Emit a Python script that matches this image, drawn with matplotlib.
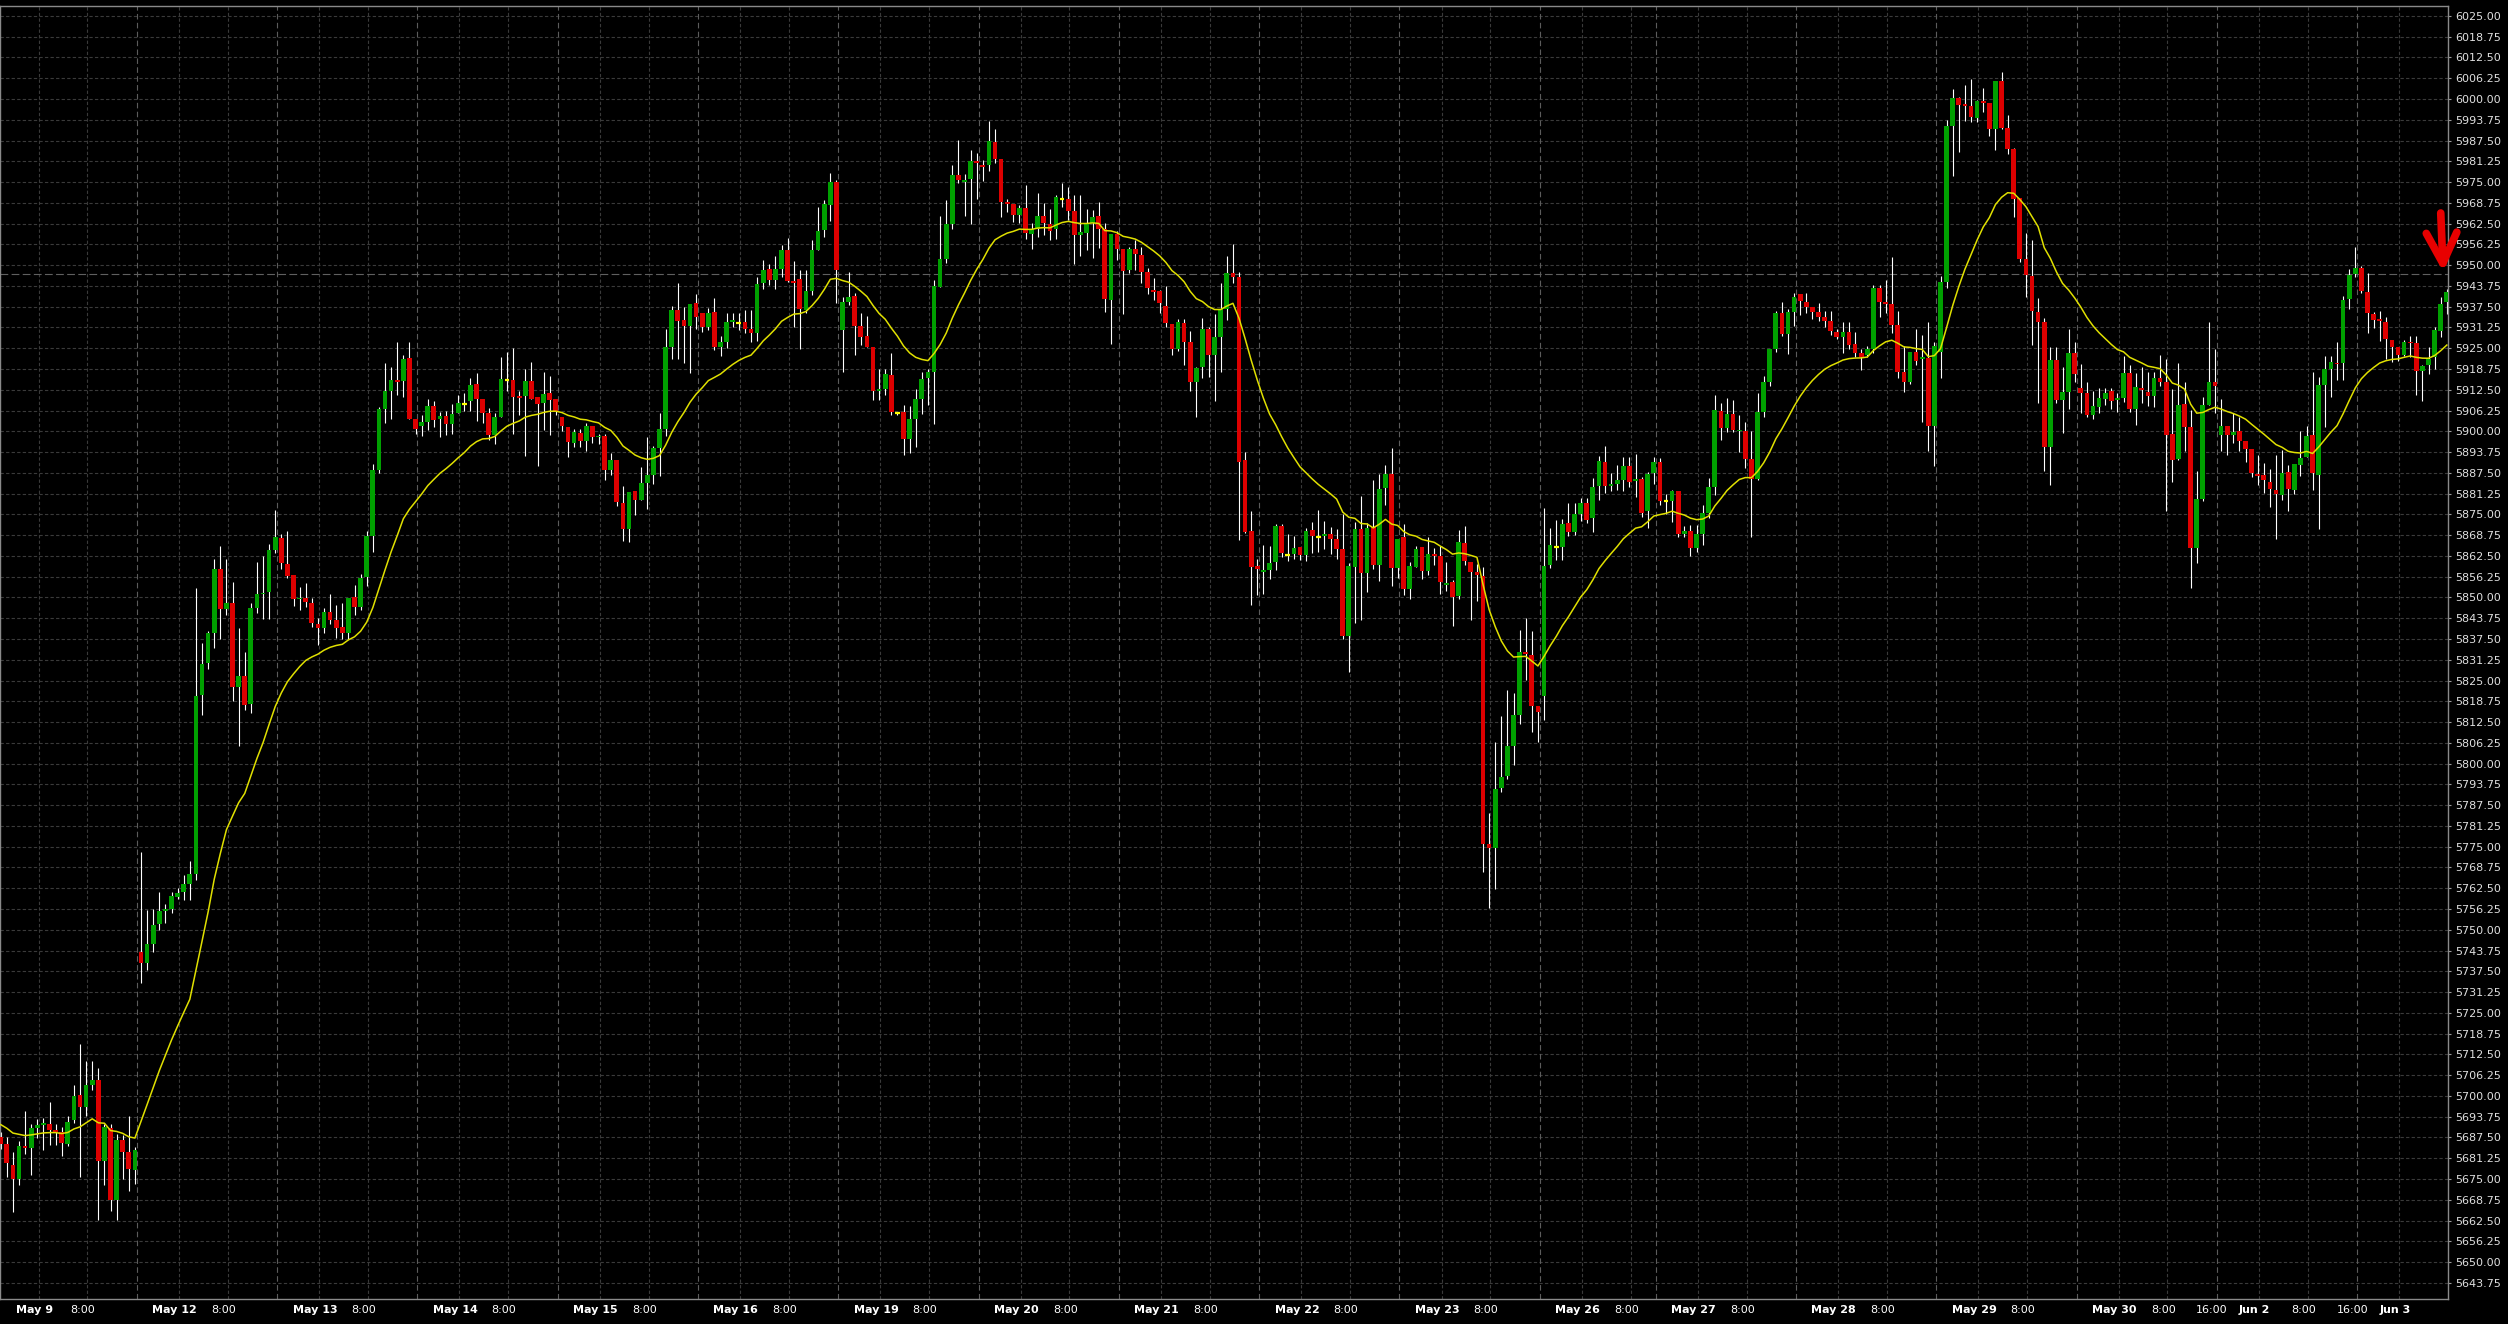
import numpy as np
import matplotlib
matplotlib.use("Agg")
import matplotlib.pyplot as plt
from matplotlib.ticker import FormatStrFormatter

# hourly candles, (open, high, low, close), one list per trading day
may09 = [(5687.5, 5689.0, 5684.0, 5685.5), (5685.5, 5687.5, 5675.6, 5679.7), (5679.2, 5683.0, 5665.0, 5675.1),
         (5675.1, 5686.5, 5673.3, 5685.0), (5685.0, 5695.6, 5682.5, 5684.3), (5684.3, 5691.6, 5676.2, 5690.3),
         (5690.5, 5693.1, 5687.3, 5691.3), (5691.3, 5693.4, 5683.7, 5691.8), (5691.6, 5698.2, 5685.3, 5689.8),
         (5689.8, 5691.6, 5685.3, 5689.1), (5689.1, 5690.8, 5682.0, 5685.8), (5685.5, 5693.9, 5684.8, 5692.3),
         (5692.9, 5703.3, 5691.8, 5700.0), (5700.2, 5715.7, 5675.6, 5696.7), (5696.7, 5710.6, 5694.1, 5703.2),
         (5703.2, 5710.6, 5701.7, 5704.8), (5704.8, 5708.3, 5662.7, 5680.5), (5680.5, 5691.6, 5673.3, 5690.6),
         (5690.3, 5691.6, 5665.3, 5668.6), (5668.8, 5688.4, 5662.7, 5686.8), (5686.8, 5688.3, 5675.1, 5683.2),
         (5683.2, 5694.1, 5671.3, 5677.9), (5677.7, 5684.6, 5673.6, 5683.7)]
may12 = [(5743.3, 5773.4, 5733.9, 5740.0), (5740.0, 5756.0, 5737.8, 5745.8), (5745.8, 5756.4, 5743.3, 5751.4),
         (5751.6, 5761.3, 5749.9, 5755.7), (5755.7, 5757.7, 5752.1, 5756.4), (5756.4, 5761.3, 5754.9, 5760.2),
         (5760.0, 5762.5, 5759.2, 5761.0), (5761.3, 5766.6, 5759.0, 5763.8), (5763.8, 5770.6, 5759.0, 5766.8),
         (5766.8, 5852.7, 5765.1, 5820.3), (5820.7, 5836.2, 5814.7, 5830.0), (5830.4, 5839.8, 5828.6, 5839.2),
         (5839.2, 5861.5, 5834.8, 5858.5), (5858.5, 5865.5, 5837.6, 5846.6), (5846.6, 5861.5, 5844.7, 5848.2),
         (5848.2, 5854.7, 5818.7, 5823.2), (5823.2, 5840.9, 5805.3, 5826.4), (5826.4, 5833.6, 5816.0, 5817.6),
         (5817.8, 5848.3, 5815.3, 5846.8), (5846.8, 5860.7, 5845.4, 5851.1), (5851.1, 5862.5, 5843.6, 5851.3),
         (5851.6, 5866.1, 5843.6, 5864.3), (5864.3, 5876.3, 5863.5, 5868.1)]
may13 = [(5868.0, 5869.1, 5858.5, 5860.3), (5860.1, 5869.9, 5855.9, 5856.5), (5856.7, 5856.7, 5847.4, 5849.5),
         (5849.5, 5853.1, 5846.2, 5849.9), (5849.9, 5854.3, 5847.0, 5848.7), (5848.2, 5849.9, 5841.0, 5842.2),
         (5842.0, 5843.7, 5835.6, 5840.8), (5840.8, 5846.8, 5839.2, 5845.6), (5845.6, 5851.0, 5842.0, 5843.2),
         (5843.2, 5847.8, 5837.8, 5840.8), (5841.2, 5848.2, 5837.4, 5839.2), (5839.4, 5849.9, 5837.6, 5849.9),
         (5850.1, 5853.9, 5844.8, 5847.0), (5847.0, 5857.1, 5846.2, 5855.9), (5856.3, 5870.0, 5853.5, 5868.5),
         (5868.6, 5890.2, 5863.8, 5888.4), (5888.4, 5907.4, 5887.6, 5906.7), (5906.7, 5920.5, 5902.6, 5912.1),
         (5912.1, 5919.3, 5903.8, 5915.5), (5915.5, 5927.0, 5910.9, 5914.9), (5915.2, 5923.0, 5910.2, 5921.8),
         (5922.1, 5927.0, 5903.6, 5903.6), (5903.6, 5903.6, 5899.2, 5900.7)]
may14 = [(5901.7, 5904.9, 5898.7, 5902.9), (5902.9, 5909.8, 5900.4, 5907.6), (5907.6, 5909.2, 5901.4, 5903.4),
         (5903.6, 5905.9, 5898.4, 5904.7), (5904.7, 5906.2, 5899.0, 5902.2), (5902.2, 5908.2, 5899.2, 5905.2),
         (5905.6, 5910.9, 5905.6, 5908.4), (5908.3, 5911.6, 5906.2, 5908.3), (5909.0, 5916.0, 5906.0, 5913.9),
         (5914.1, 5917.5, 5903.2, 5909.8), (5909.6, 5909.6, 5902.4, 5905.6), (5905.4, 5906.9, 5897.4, 5898.9),
         (5898.9, 5905.4, 5896.1, 5904.3), (5904.4, 5922.3, 5904.4, 5915.8), (5915.3, 5923.9, 5912.0, 5915.3),
         (5915.5, 5925.1, 5899.2, 5910.4), (5910.6, 5912.0, 5905.0, 5910.0), (5910.6, 5918.7, 5892.6, 5915.2),
         (5915.2, 5920.9, 5909.7, 5909.7), (5910.2, 5910.2, 5889.6, 5908.2), (5908.6, 5917.7, 5900.4, 5911.2),
         (5911.4, 5916.5, 5898.9, 5909.4), (5909.7, 5909.7, 5905.0, 5906.2)]
may15 = [(5904.4, 5904.4, 5900.2, 5901.7), (5901.4, 5901.4, 5892.2, 5896.8), (5896.6, 5900.6, 5895.4, 5899.8),
         (5899.5, 5900.6, 5895.4, 5897.2), (5897.2, 5902.4, 5894.2, 5901.6), (5901.6, 5901.6, 5896.6, 5898.2),
         (5898.2, 5899.2, 5896.2, 5898.7), (5898.6, 5899.2, 5885.2, 5888.4), (5888.4, 5893.6, 5886.9, 5891.4),
         (5891.4, 5891.4, 5877.6, 5878.8), (5878.4, 5883.4, 5867.1, 5870.6), (5870.6, 5881.8, 5866.8, 5881.8),
         (5882.1, 5882.1, 5874.8, 5879.3), (5879.3, 5889.4, 5879.3, 5884.4), (5884.4, 5898.4, 5876.5, 5886.9),
         (5886.9, 5895.6, 5884.2, 5895.0), (5895.1, 5905.6, 5886.6, 5900.6), (5900.8, 5930.7, 5898.6, 5925.3),
         (5925.5, 5937.7, 5921.9, 5936.5), (5936.5, 5944.5, 5921.9, 5933.3), (5933.5, 5937.5, 5920.7, 5931.8),
         (5931.8, 5938.3, 5917.5, 5938.3), (5938.5, 5941.3, 5930.9, 5934.3)]
may16 = [(5935.5, 5935.5, 5930.0, 5931.5), (5931.5, 5937.0, 5930.5, 5935.5), (5935.9, 5940.0, 5924.5, 5925.5),
         (5925.5, 5928.7, 5922.7, 5926.9), (5926.9, 5935.5, 5925.1, 5932.9), (5932.9, 5935.5, 5931.5, 5933.4),
         (5932.7, 5935.5, 5930.5, 5932.7), (5932.9, 5936.5, 5929.7, 5930.9), (5930.7, 5936.5, 5926.9, 5929.5),
         (5929.5, 5946.5, 5927.1, 5944.3), (5944.5, 5951.7, 5942.7, 5948.6), (5948.8, 5950.4, 5943.9, 5945.5),
         (5945.5, 5952.9, 5942.9, 5948.8), (5948.8, 5956.2, 5946.5, 5954.6), (5954.6, 5958.2, 5945.0, 5945.3),
         (5945.2, 5951.2, 5931.5, 5944.7), (5945.7, 5948.6, 5924.7, 5936.9), (5936.5, 5948.6, 5935.5, 5942.1),
         (5942.1, 5957.6, 5940.9, 5954.6), (5954.6, 5967.4, 5954.6, 5960.3), (5960.5, 5969.5, 5958.6, 5968.4),
         (5968.1, 5977.8, 5963.4, 5975.1), (5975.1, 5975.6, 5938.5, 5948.6)]
may19 = [(5930.5, 5940.3, 5917.7, 5939.0), (5938.9, 5947.9, 5938.0, 5940.3), (5940.7, 5941.5, 5923.0, 5931.7),
         (5931.7, 5935.5, 5926.0, 5928.3), (5928.7, 5934.7, 5925.3, 5925.3), (5925.3, 5925.3, 5909.4, 5912.2),
         (5912.2, 5918.7, 5909.4, 5912.6), (5912.8, 5918.7, 5911.0, 5917.3), (5916.9, 5923.5, 5904.8, 5905.8),
         (5905.6, 5905.6, 5904.8, 5905.6), (5905.8, 5907.8, 5892.8, 5897.8), (5897.8, 5907.6, 5893.4, 5903.6),
         (5903.6, 5912.6, 5895.4, 5909.6), (5909.6, 5917.7, 5905.2, 5915.6), (5916.0, 5918.7, 5908.0, 5917.9),
         (5917.9, 5945.5, 5902.2, 5943.7), (5943.5, 5964.8, 5943.5, 5951.8), (5951.8, 5969.6, 5950.6, 5962.4),
         (5962.4, 5980.1, 5960.8, 5977.0), (5977.0, 5987.7, 5974.8, 5975.6), (5975.1, 5977.4, 5964.8, 5975.6),
         (5975.9, 5984.7, 5962.4, 5981.3), (5981.3, 5983.7, 5969.8, 5980.7)]
may20 = [(5980.0, 5981.7, 5975.2, 5979.6), (5980.0, 5993.3, 5978.2, 5987.3), (5987.1, 5990.9, 5980.7, 5981.9),
         (5981.9, 5981.9, 5964.6, 5969.1), (5969.1, 5970.0, 5966.0, 5968.4), (5968.4, 5968.4, 5963.0, 5965.1),
         (5965.1, 5968.1, 5962.6, 5967.3), (5967.3, 5974.0, 5958.0, 5959.8), (5959.4, 5962.6, 5955.0, 5961.0),
         (5961.0, 5971.6, 5958.6, 5964.8), (5964.8, 5968.6, 5959.1, 5962.6), (5962.4, 5966.8, 5957.6, 5960.4),
         (5961.0, 5971.2, 5958.0, 5970.4), (5970.0, 5974.8, 5967.6, 5970.0), (5969.8, 5973.6, 5963.6, 5966.4),
         (5966.2, 5971.0, 5950.4, 5959.2), (5959.0, 5971.2, 5952.8, 5960.0), (5959.8, 5966.8, 5954.6, 5962.6),
         (5962.8, 5966.6, 5952.2, 5964.4), (5964.8, 5969.0, 5955.2, 5961.0), (5961.0, 5962.6, 5935.9, 5939.9),
         (5939.5, 5959.4, 5926.3, 5959.4), (5959.4, 5960.4, 5951.6, 5954.8)]
may21 = [(5954.8, 5954.8, 5935.3, 5948.2), (5948.4, 5955.4, 5947.6, 5954.8), (5954.8, 5957.6, 5948.6, 5953.4),
         (5953.0, 5955.4, 5944.6, 5947.8), (5948.0, 5949.0, 5941.4, 5943.0), (5942.5, 5946.2, 5939.5, 5942.0),
         (5942.3, 5942.5, 5935.7, 5938.5), (5937.7, 5943.7, 5931.3, 5932.5), (5932.3, 5932.3, 5923.0, 5924.9),
         (5924.9, 5933.9, 5924.3, 5932.9), (5932.5, 5933.9, 5920.1, 5927.0), (5926.9, 5930.3, 5912.0, 5914.7),
         (5914.7, 5919.5, 5904.4, 5919.1), (5919.3, 5934.1, 5916.0, 5930.7), (5930.7, 5931.5, 5916.3, 5923.1),
         (5923.1, 5935.3, 5909.1, 5928.3), (5928.5, 5944.7, 5917.9, 5936.7), (5936.7, 5952.8, 5933.5, 5947.6),
         (5947.6, 5956.4, 5944.6, 5946.4), (5946.4, 5947.8, 5867.3, 5890.9), (5891.4, 5893.8, 5869.5, 5869.8),
         (5870.0, 5876.1, 5847.7, 5859.3), (5859.5, 5861.7, 5850.7, 5858.7)]
may22 = [(5857.7, 5865.7, 5850.9, 5858.3), (5858.3, 5865.5, 5855.7, 5860.3), (5860.8, 5872.1, 5858.3, 5871.5),
         (5871.5, 5872.1, 5862.1, 5863.3), (5862.9, 5869.1, 5860.9, 5862.9), (5863.1, 5868.5, 5861.5, 5864.9),
         (5865.1, 5865.1, 5861.3, 5862.9), (5862.9, 5870.9, 5860.9, 5870.1), (5870.3, 5872.7, 5863.5, 5868.5),
         (5868.3, 5876.3, 5863.7, 5868.3), (5868.5, 5873.1, 5864.5, 5869.1), (5869.1, 5871.3, 5863.1, 5867.7),
         (5867.6, 5870.5, 5861.5, 5864.7), (5864.7, 5875.1, 5837.6, 5838.4), (5838.4, 5860.5, 5827.7, 5859.5),
         (5859.3, 5872.7, 5842.4, 5870.6), (5870.6, 5880.6, 5843.2, 5857.5), (5857.5, 5872.3, 5851.5, 5870.9),
         (5871.3, 5885.2, 5858.7, 5859.7), (5859.9, 5887.2, 5854.9, 5882.6), (5882.9, 5889.8, 5877.9, 5887.2),
         (5887.2, 5894.9, 5853.6, 5858.8), (5858.8, 5867.6, 5856.0, 5867.6)]
may23 = [(5868.2, 5872.0, 5850.8, 5852.6), (5852.6, 5860.8, 5849.6, 5859.5), (5859.2, 5865.6, 5859.2, 5864.6),
         (5865.2, 5865.2, 5855.6, 5858.0), (5858.0, 5868.2, 5856.8, 5863.0), (5863.0, 5864.8, 5859.8, 5862.4),
         (5862.4, 5865.6, 5851.0, 5854.6), (5853.8, 5860.8, 5851.8, 5854.3), (5854.6, 5855.2, 5841.3, 5850.2),
         (5850.4, 5870.4, 5849.6, 5866.8), (5866.4, 5871.4, 5859.8, 5861.0), (5860.8, 5860.8, 5843.3, 5857.8),
         (5857.8, 5860.0, 5848.8, 5856.8), (5856.5, 5859.2, 5767.5, 5775.9), (5775.8, 5785.2, 5756.5, 5774.7),
         (5774.7, 5806.6, 5762.3, 5792.4), (5792.6, 5814.2, 5791.6, 5796.0), (5796.3, 5822.3, 5795.4, 5805.4),
         (5805.4, 5821.3, 5799.6, 5814.6), (5814.6, 5840.1, 5812.0, 5833.5), (5833.5, 5843.9, 5825.1, 5833.0),
         (5832.7, 5839.9, 5809.6, 5817.4), (5817.4, 5817.4, 5806.6, 5815.4)]
may26 = [(5820.2, 5876.8, 5813.0, 5859.5), (5859.7, 5871.0, 5859.0, 5865.8), (5865.2, 5873.4, 5861.4, 5865.2),
         (5865.2, 5873.6, 5861.4, 5872.0), (5872.4, 5878.3, 5868.4, 5869.6), (5869.6, 5878.3, 5868.8, 5875.2),
         (5875.2, 5879.9, 5873.0, 5878.4), (5878.4, 5879.9, 5872.4, 5873.4), (5873.8, 5886.1, 5869.8, 5883.3),
         (5883.6, 5892.7, 5879.4, 5891.1), (5890.7, 5895.7, 5881.4, 5883.6), (5883.6, 5887.5, 5881.9, 5884.0),
         (5884.0, 5889.9, 5882.3, 5885.4), (5885.4, 5892.3, 5881.9, 5889.7), (5889.7, 5892.3, 5883.3, 5884.7),
         (5884.9, 5893.1, 5880.2, 5885.6), (5885.6, 5886.3, 5874.2, 5875.4), (5876.0, 5887.9, 5871.0, 5887.2),
         (5887.5, 5892.3, 5884.1, 5890.8)]
may27 = [(5890.8, 5891.9, 5877.8, 5879.0), (5878.9, 5881.2, 5875.2, 5878.9), (5879.0, 5882.3, 5872.8, 5882.1),
         (5882.1, 5882.1, 5868.2, 5869.2), (5869.0, 5871.6, 5868.2, 5870.0), (5870.0, 5871.8, 5862.6, 5865.0),
         (5864.8, 5871.8, 5863.6, 5869.0), (5869.0, 5877.8, 5865.8, 5875.4), (5875.4, 5886.1, 5874.0, 5883.1),
         (5883.1, 5911.0, 5880.9, 5906.4), (5906.1, 5908.5, 5897.3, 5901.1), (5901.1, 5910.0, 5899.9, 5905.1),
         (5905.1, 5909.5, 5899.7, 5900.3), (5900.0, 5905.0, 5893.9, 5900.5), (5900.2, 5902.9, 5888.9, 5891.6),
         (5891.6, 5900.2, 5868.1, 5885.6), (5885.8, 5911.5, 5885.2, 5905.9), (5905.9, 5916.7, 5904.4, 5914.9),
         (5914.9, 5924.9, 5913.7, 5924.9), (5924.9, 5936.3, 5923.9, 5935.5), (5935.5, 5938.9, 5928.7, 5929.3),
         (5929.3, 5936.7, 5923.3, 5935.9), (5935.9, 5941.5, 5931.7, 5940.3)]
may28 = [(5941.3, 5941.3, 5934.9, 5939.3), (5938.9, 5941.5, 5935.5, 5937.5), (5937.5, 5937.5, 5933.9, 5935.9),
         (5935.9, 5938.5, 5933.3, 5934.3), (5934.3, 5936.3, 5931.5, 5933.3), (5933.1, 5936.3, 5929.1, 5930.1),
         (5929.9, 5930.9, 5927.9, 5928.3), (5928.5, 5932.9, 5923.5, 5929.9), (5929.9, 5932.9, 5924.9, 5925.9),
         (5926.3, 5929.9, 5922.3, 5923.7), (5923.7, 5924.9, 5918.5, 5922.5), (5922.9, 5925.7, 5922.5, 5924.9),
         (5924.9, 5943.9, 5923.5, 5943.1), (5943.1, 5943.9, 5934.5, 5938.9), (5938.9, 5945.5, 5935.5, 5938.3),
         (5938.3, 5952.4, 5929.5, 5932.1), (5932.1, 5936.3, 5915.9, 5917.9), (5917.7, 5925.7, 5911.9, 5914.9),
         (5914.9, 5923.9, 5914.3, 5923.9), (5923.9, 5930.7, 5919.9, 5921.3), (5921.7, 5928.9, 5902.8, 5922.5),
         (5922.2, 5932.9, 5894.2, 5901.7), (5901.7, 5926.9, 5889.6, 5925.8)]
may29 = [(5924.0, 5946.7, 5916.1, 5945.0), (5945.0, 5993.7, 5943.0, 5991.9), (5991.9, 6002.9, 5976.9, 6000.4),
         (6000.4, 6000.7, 5984.1, 5998.2), (5998.6, 6004.3, 5993.3, 5998.0), (5997.9, 6006.1, 5993.1, 5994.7),
         (5994.4, 5999.7, 5993.1, 5999.4), (5999.3, 6003.3, 5996.1, 5998.7), (5998.7, 5998.7, 5988.9, 5991.1),
         (5991.1, 6005.5, 5984.7, 6005.5), (6005.5, 6008.1, 5990.9, 5991.3), (5991.3, 5995.1, 5983.5, 5984.9),
         (5984.9, 5985.3, 5964.4, 5970.0), (5970.2, 5970.2, 5951.0, 5951.9), (5951.8, 5959.6, 5940.3, 5947.0),
         (5946.8, 5957.6, 5926.1, 5936.1), (5935.9, 5940.1, 5908.4, 5932.9), (5932.9, 5934.1, 5888.2, 5895.4),
         (5895.2, 5925.5, 5883.8, 5921.5), (5921.5, 5925.5, 5908.4, 5909.3), (5909.3, 5919.5, 5899.4, 5911.7),
         (5911.9, 5930.9, 5906.8, 5923.5), (5923.5, 5926.9, 5914.9, 5917.1)]
may30 = [(5913.0, 5920.3, 5905.4, 5911.4), (5911.4, 5914.9, 5904.4, 5904.8), (5904.8, 5912.2, 5903.8, 5907.6),
         (5907.4, 5913.0, 5905.4, 5910.0), (5909.8, 5913.0, 5908.0, 5911.4), (5912.0, 5913.0, 5906.6, 5909.2),
         (5909.4, 5911.6, 5905.8, 5910.0), (5910.0, 5922.7, 5908.8, 5917.5), (5917.5, 5919.9, 5905.8, 5906.6),
         (5906.8, 5917.5, 5902.0, 5913.3), (5913.1, 5919.3, 5908.4, 5912.3), (5911.8, 5917.7, 5907.6, 5910.6),
         (5910.6, 5917.9, 5907.4, 5916.0), (5916.1, 5922.9, 5913.5, 5914.9), (5914.9, 5921.7, 5876.1, 5899.0),
         (5899.2, 5912.8, 5884.8, 5891.4), (5891.8, 5920.5, 5891.4, 5908.0), (5908.2, 5914.9, 5894.2, 5901.4),
         (5901.4, 5906.4, 5852.7, 5865.0), (5865.0, 5888.2, 5860.3, 5879.7), (5879.7, 5910.4, 5879.1, 5907.8),
         (5907.8, 5932.9, 5907.8, 5914.9), (5914.9, 5924.7, 5905.4, 5913.7)]
jun02 = [(5898.8, 5909.6, 5894.0, 5901.6), (5901.6, 5901.6, 5893.0, 5898.8), (5898.8, 5905.6, 5896.4, 5899.8),
         (5900.0, 5904.4, 5894.0, 5897.2), (5897.0, 5897.0, 5890.8, 5894.8), (5894.6, 5894.6, 5886.2, 5887.4),
         (5887.2, 5892.8, 5883.8, 5886.6), (5886.8, 5890.6, 5881.4, 5885.2), (5884.8, 5888.6, 5877.3, 5882.6),
         (5882.4, 5892.8, 5867.5, 5881.0), (5880.8, 5894.4, 5879.3, 5887.4), (5887.8, 5890.0, 5876.1, 5882.6),
         (5882.4, 5890.2, 5881.0, 5890.2), (5890.0, 5900.0, 5886.6, 5892.0), (5892.4, 5901.6, 5892.4, 5898.6),
         (5899.0, 5917.9, 5882.2, 5887.4), (5887.0, 5916.3, 5870.5, 5913.9), (5913.9, 5922.7, 5901.4, 5918.7),
         (5918.7, 5922.7, 5910.2, 5920.9), (5920.7, 5926.9, 5915.3, 5920.3), (5920.5, 5940.7, 5915.5, 5939.5),
         (5939.7, 5948.8, 5936.9, 5947.1), (5947.4, 5955.6, 5946.4, 5949.1)]
jun03 = [(5949.1, 5949.8, 5941.5, 5942.1), (5941.9, 5947.6, 5929.7, 5935.5), (5935.3, 5935.9, 5931.1, 5933.5),
         (5933.7, 5936.1, 5927.3, 5933.3), (5932.9, 5934.3, 5921.7, 5927.7), (5927.5, 5927.5, 5920.9, 5925.5),
         (5925.3, 5925.3, 5921.1, 5923.1), (5922.9, 5927.5, 5922.7, 5926.9), (5926.9, 5928.7, 5922.5, 5926.5),
         (5926.5, 5928.7, 5910.8, 5918.3), (5918.3, 5919.9, 5909.0, 5919.7), (5919.9, 5925.3, 5917.1, 5921.7),
         (5922.5, 5931.3, 5918.9, 5930.5), (5930.3, 5940.5, 5928.3, 5938.3), (5938.8, 5942.9, 5935.3, 5942.0)]

day_labels = ["May 9", "May 12", "May 13", "May 14", "May 15", "May 16", "May 19", "May 20", "May 21",
              "May 22", "May 23", "May 26", "May 27", "May 28", "May 29", "May 30", "Jun 2", "Jun 3"]
day_candles = [may09, may12, may13, may14, may15, may16, may19, may20, may21,
               may22, may23, may26, may27, may28, may29, may30, jun02, jun03]
# days that also show an 8:00 / 16:00 label on the time axis
days_with_8 = day_labels[:-1]
days_with_16 = ["May 30", "Jun 2"]

ma_period = 20          # moving average of the closes (exponential)
ma_start = 5692.0       # moving average value at the left edge
last_price = 5947.4     # dashed price line
price_ticks = np.arange(5643.75, 6025.01, 6.25)

# ---------------------------------------------------------------
ohlc = np.array([c for day in day_candles for c in day])
opens, highs, lows, closes = ohlc.T
x = np.arange(len(ohlc))
day_start = np.cumsum([0] + [len(d) for d in day_candles])[:-1]

alpha = 2.0 / (ma_period + 1)
ma = np.empty(len(closes))
prev = ma_start
for i, c in enumerate(closes):
    prev = prev + alpha * (c - prev)
    ma[i] = prev

fig = plt.figure(figsize=(25.08, 13.24), dpi=100, facecolor="black")
ax = fig.add_axes([0.0, 0.0189, 0.9761, 0.9766])
ax.set_facecolor("black")
ax.set_xlim(-0.12, 401.2)
ax.set_ylim(5638.9, 6028.0)

# grid: dotted price lines, dotted time lines, dashed day separators
for p in price_ticks:
    ax.axhline(p, color="#3a3a3a", lw=0.8, ls=(0, (3, 2)), zorder=0)
for k in day_start:
    if k > 0:
        ax.axvline(k - 0.7, color="#5c5c5c", lw=0.8, ls=(0, (5, 3)), zorder=0)
    for off in (6.2, 14.2):
        if k + off < 400.5:
            ax.axvline(k + off, color="#3a3a3a", lw=0.8, ls=(0, (3, 2)), zorder=0)
ax.axhline(last_price, color="#606060", lw=0.8, ls=(0, (7, 3)), zorder=1)

# candles
up = closes > opens
down = closes < opens
flat = closes == opens
w = 0.77
ax.vlines(x, lows, highs, color="white", lw=0.8, zorder=2)
ax.bar(x[up], (closes - opens)[up], bottom=opens[up], width=w, color="#00a000", lw=0, zorder=3)
ax.bar(x[down], (opens - closes)[down], bottom=closes[down], width=w, color="#dd0000", lw=0, zorder=3)
ax.hlines(closes[flat], x[flat] - w / 2, x[flat] + w / 2, color="#ffff00", lw=1.6, zorder=3)

ax.plot(x, ma, color="#e0e000", lw=1.1, zorder=4)

# axes styling
for s in ax.spines.values():
    s.set_color("#8a8a8a")
    s.set_linewidth(1.0)
ax.yaxis.tick_right()
ax.set_yticks(price_ticks)
ax.yaxis.set_major_formatter(FormatStrFormatter("%.2f"))
ax.tick_params(axis="y", colors="#9a9a9a", labelcolor="#e0e0e0", length=2.5, width=0.8,
               pad=2.5, labelsize=8)

tick_pos, tick_lab, tick_bold = [], [], []
for lab, k in zip(day_labels, day_start):
    tick_pos.append(k + 5.5)
    tick_lab.append(lab)
    tick_bold.append(True)
    if lab in days_with_8:
        tick_pos.append(k + 13.5)
        tick_lab.append("8:00")
        tick_bold.append(False)
    if lab in days_with_16:
        tick_pos.append(k + 21.5)
        tick_lab.append("16:00")
        tick_bold.append(False)
ax.set_xticks(tick_pos)
ax.set_xticklabels(tick_lab)
ax.tick_params(axis="x", length=0, pad=4, labelsize=8, labelcolor="white")
for t, b in zip(ax.get_xticklabels(), tick_bold):
    t.set_fontweight("bold" if b else "normal")

# red arrow pointing at the last price
arrow = ax.annotate("", xy=(400.4, 5948.0), xytext=(400.0, 5965.7), annotation_clip=False,
                    arrowprops=dict(arrowstyle="->,head_length=2.2,head_width=1.1", color="#e80000",
                                    lw=5.5, shrinkA=0, shrinkB=0, capstyle="round", joinstyle="round"))
arrow.arrow_patch.set_clip_on(False)
arrow.set_zorder(10)

fig.savefig("out.png", dpi=100, facecolor="black")
